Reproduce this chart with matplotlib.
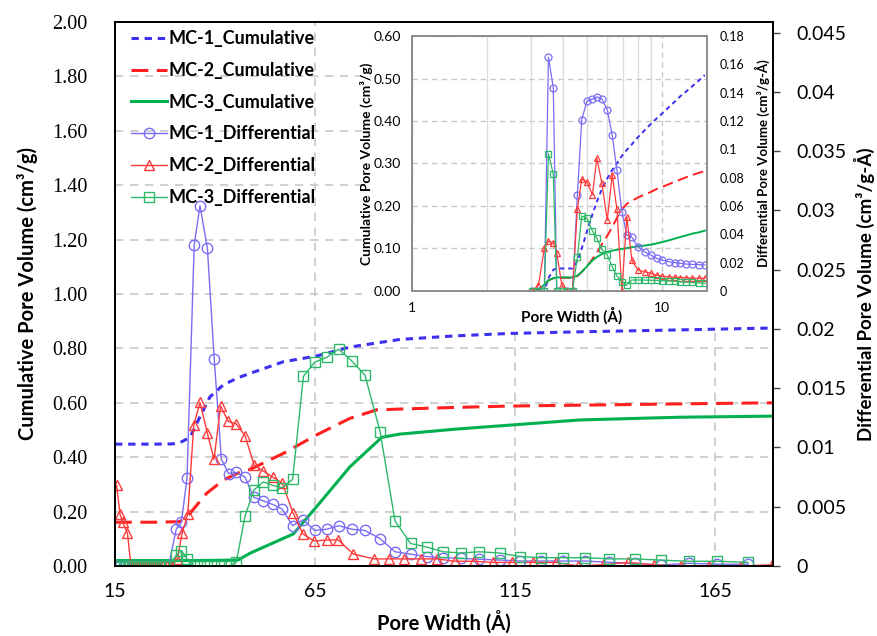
import matplotlib
matplotlib.use("Agg")
import matplotlib.pyplot as plt
from matplotlib.patches import Rectangle
from matplotlib.ticker import FixedLocator, NullFormatter, FuncFormatter

# ---------------- main chart data ----------------
# pore width grid shared by the MC-1 and MC-3 differential curves (Å)
x_diff = [15.2, 16.2, 17.2, 18.2, 19.2, 20.2, 21.2, 22.2, 23.2, 24.2, 25.2, 26.2, 27.2, 28.4,
          30.3, 31.6, 33.0, 34.8, 36.25, 38.1, 39.8, 41.6, 43.4, 45.3,
          47.5, 49.7, 52.1, 54.4, 56.8, 59.4, 62.1, 64.9, 67.9, 70.9,
          74.2, 77.5, 81.3, 85.0, 88.9, 92.9, 97.1, 101.4, 106.1, 111.2,
          116.2, 121.5, 127.0, 132.6, 138.6, 144.9, 151.5, 158.4, 165.6, 173.3]
mc1_diff = [0] * 14 + [
    0.0031, 0.0037, 0.0074, 0.0271, 0.0304, 0.0268, 0.0175, 0.0090, 0.0078, 0.0079,
    0.0075, 0.0058, 0.0055, 0.0052, 0.0048, 0.0034, 0.0039, 0.0030, 0.0031, 0.0034,
    0.0031, 0.0030, 0.0023, 0.0012, 0.0010, 0.0008, 0.0007, 0.00065, 0.00057, 0.0005,
    0.00042, 0.00042, 0.00042, 0.00042, 0.00031, 0.00023, 0.00008, 0.00023, 0.00015, 0.00015]
mc3_diff = [0] * 14 + [
    0.0009, 0.0013, 0.0006, 0, 0, 0, 0, 0, 0, 0.0003,
    0.0042, 0.0064, 0.0071, 0.0068, 0.0066, 0.0073, 0.0160, 0.0172, 0.0176, 0.0183,
    0.0173, 0.0161, 0.0113, 0.0038, 0.0019, 0.0016, 0.0012, 0.0011, 0.0012, 0.0011,
    0.0008, 0.0007, 0.0007, 0.0007, 0.0006, 0.0006, 0.0005, 0.0004, 0.0004, 0.0003]

# MC-2 differential has its own grid
x_diff2 = [15.4, 16.25, 16.9, 18.1,
           19.0, 20.0, 21.0, 22.0, 23.0, 24.0, 25.0, 26.0, 27.0, 28.0, 29.2,
           30.6, 31.8, 33.2, 34.7, 36.25, 38.1, 39.75, 41.4, 43.3, 45.25,
           47.5, 49.8, 52.1, 54.4, 56.8, 59.5, 62.0, 64.8, 67.9, 70.8,
           74.6, 79.8, 83.6, 87.3, 91.4, 95.6, 100.0, 104.75, 109.5, 114.3,
           119.6, 125.25, 130.7, 136.9, 143.3, 149.8, 156.6, 163.6, 171.4, 179.3]
mc2_diff = [0.0068, 0.0044, 0.0037, 0.0028] + [0] * 11 + [
    0.0006, 0.0028, 0.0044, 0.0119, 0.0138, 0.0112, 0.0090, 0.0135, 0.0122, 0.0120,
    0.0110, 0.0085, 0.0080, 0.0075, 0.0070, 0.0045, 0.0027, 0.0021, 0.0022, 0.0022,
    0.0010, 0.0006, 0.0006, 0.0006, 0.0006, 0.0006, 0.0004, 0.0004, 0.0003, 0.0003,
    0.0003, 0.0003, 0.0, 0.0001, 0.0003, 0.0001, 0.0, 0.0, 0.0, 0.0001]

# cumulative curves
x_cum1 = [15, 20, 25, 29.5, 31.7, 33.75, 35, 36.25, 38.75, 42, 45.4, 48.75, 57.1,
          65.4, 73.75, 86.25, 100, 113.75, 131.25, 156.25, 179.5]
mc1_cum = [0.448, 0.448, 0.448, 0.449, 0.457, 0.473, 0.51, 0.549, 0.622, 0.665, 0.69,
           0.708, 0.751, 0.772, 0.805, 0.833, 0.846, 0.855, 0.861, 0.868, 0.875]
x_cum2 = [15, 20, 25, 31.25, 33.75, 37.9, 42.1, 46.25, 48.75, 57.1, 65.4, 73.75,
          80.4, 86.25, 100, 113.75, 135, 156, 179.5]
mc2_cum = [0.161, 0.161, 0.161, 0.163, 0.194, 0.267, 0.316, 0.345, 0.355, 0.414, 0.482,
           0.543, 0.574, 0.577, 0.583, 0.588, 0.592, 0.596, 0.600]
x_cum3 = [15, 25, 35, 45.8, 48.75, 59.6, 65.4, 73.75, 81.7, 86.25, 100, 113.75,
          131.25, 156.25, 179.5]
mc3_cum = [0.02, 0.02, 0.02, 0.022, 0.047, 0.118, 0.218, 0.365, 0.473, 0.485, 0.503,
           0.518, 0.537, 0.547, 0.551]

# ---------------- inset data (log pore width) ----------------
ix = [3.03, 3.2, 3.38, 3.51, 3.67, 3.79, 3.97, 4.16, 4.38, 4.58, 4.77, 5.0, 5.26, 5.48,
      5.74, 6.03, 6.31, 6.59, 6.9, 7.22, 7.56, 8.0, 8.5, 9.0, 9.5, 10.0, 10.6, 11.2,
      11.8, 12.5, 13.2, 14.0, 14.8]
in_mc1_diff = [0, 0, 0, 0.165, 0.1435, 0, 0, 0, 0, 0.0678, 0.121, 0.134, 0.1355, 0.137,
               0.1357, 0.128, 0.110, 0.0854, 0.056, 0.0395, 0.038, 0.0313, 0.0277, 0.0254,
               0.023, 0.0219, 0.0207, 0.020, 0.0196, 0.019, 0.0188, 0.0186, 0.0184]
in_mc2_diff = [0, 0.004, 0.03, 0.035, 0.034, 0.027, 0.004, 0, 0, 0.058, 0.079, 0.077,
               0.068, 0.0937, 0.076, 0.050, 0.082, 0.0577, 0, 0.0524, 0.0219, 0.0148,
               0.0136, 0.0125, 0.0113, 0.0105, 0.010, 0.0097, 0.0095, 0.0093, 0.0091,
               0.009, 0.009]
in_mc3_diff = [0, 0, 0, 0.097, 0.0826, 0, 0, 0, 0, 0.024, 0.053, 0.0513, 0.0426, 0.0372,
               0.0294, 0.0254, 0.0172, 0.0106, 0.0066, 0.0042, 0.0078, 0.0078, 0.0077,
               0.0076, 0.0075, 0.0073, 0.0071, 0.0068, 0.0065, 0.0062, 0.006, 0.0057, 0.0054]
in_mc1_cum = [0, 0, 0, 0.03, 0.05, 0.053, 0.053, 0.053, 0.053, 0.07, 0.10, 0.14, 0.18,
              0.21, 0.24, 0.265, 0.285, 0.30, 0.318, 0.332, 0.345, 0.362, 0.378, 0.393,
              0.406, 0.418, 0.432, 0.445, 0.458, 0.47, 0.482, 0.495, 0.508]
in_mc2_cum = [0, 0.003, 0.015, 0.025, 0.03, 0.031, 0.031, 0.031, 0.031, 0.035, 0.045,
              0.058, 0.075, 0.09, 0.11, 0.13, 0.15, 0.172, 0.192, 0.205, 0.212, 0.22,
              0.227, 0.233, 0.24, 0.245, 0.251, 0.257, 0.262, 0.268, 0.273, 0.278, 0.282]
in_mc3_cum = [0, 0.003, 0.015, 0.025, 0.03, 0.032, 0.032, 0.032, 0.032, 0.036, 0.045,
              0.058, 0.072, 0.08, 0.087, 0.092, 0.095, 0.097, 0.099, 0.101, 0.103, 0.105,
              0.107, 0.109, 0.112, 0.115, 0.119, 0.123, 0.127, 0.131, 0.135, 0.138, 0.142]

labels = ["MC-1_Cumulative", "MC-2_Cumulative", "MC-3_Cumulative",
          "MC-1_Differential", "MC-2_Differential", "MC-3_Differential"]

BLUE_C, RED_C, GREEN_C = "#3d2ff0", "#ff1f1f", "#00b050"
BLUE_D, RED_D, GREEN_D = "#7a6cf5", "#ff3a3a", "#2eb86a"
GRID = "#c8c8c8"
SANS = ["Lato", "DejaVu Sans"]
SERIF = ["Liberation Serif", "DejaVu Serif"]

plt.rcParams["font.family"] = SANS

W, H = 878, 636
fig = plt.figure(figsize=(W / 100, H / 100), dpi=100)


def fx(px):
    return px / W


def fy(py):
    return 1 - py / H


# ---------------- main axes ----------------
ax = fig.add_axes([fx(115), fy(566), fx(773) - fx(115), fy(22) - fy(566)])
ax2 = ax.twinx()

ax.set_xlim(15, 179.5)
ax.set_ylim(0, 2.0)
ax2.set_ylim(0, 0.0459)

ax.set_xticks([15, 65, 115, 165])
ax.set_yticks([i * 0.2 for i in range(11)])
ax.yaxis.set_major_formatter(FuncFormatter(lambda v, p: f"{v:.2f}"))
ax2.set_yticks([i * 0.005 for i in range(10)])
ax2.yaxis.set_major_formatter(FuncFormatter(lambda v, p: "0" if v == 0 else f"{v:.3f}".rstrip("0")))

ax.grid(True, axis="both", color=GRID, linestyle=(0, (5, 4)), linewidth=1.2)
ax.set_axisbelow(True)

ax.tick_params(axis="y", length=0, pad=20, labelsize=14.5)
ax.tick_params(axis="x", length=0, pad=12, labelsize=14)
ax2.tick_params(axis="y", length=5, width=1, pad=12, labelsize=14, color="#444444")
for lab in ax.get_yticklabels():
    lab.set_fontfamily(SERIF)

for a in (ax, ax2):
    for s in a.spines.values():
        s.set_color("black")
        s.set_linewidth(1.3)

h1, = ax.plot(x_cum1, mc1_cum, color=BLUE_C, lw=2.2, dashes=(2.4, 1.9))
h2, = ax.plot(x_cum2, mc2_cum, color=RED_C, lw=2.2, dashes=(5.5, 2.8))
h3, = ax.plot(x_cum3, mc3_cum, color=GREEN_C, lw=2.2)
h4, = ax2.plot(x_diff, mc1_diff, color=BLUE_D, lw=1.0, marker="o", ms=7.5,
               mfc="none", mec=BLUE_D, mew=1.0)
h5, = ax2.plot(x_diff2, mc2_diff, color=RED_D, lw=1.0, marker="^", ms=7,
               mfc="none", mec=RED_D, mew=1.0)
h6, = ax2.plot(x_diff, mc3_diff, color=GREEN_D, lw=1.0, marker="s", ms=6.5,
               mfc="none", mec=GREEN_D, mew=1.0)

ax.set_xlabel("Pore Width (Å)", fontsize=14.5, fontweight="bold")
ax.xaxis.set_label_coords(0.5, -0.103)
ax.xaxis.label.set_va("center")
ax.set_ylabel("Cumulative Pore Volume (cm³/g)", fontsize=14.5, fontweight="bold", va="center")
ax.yaxis.set_label_coords((28 - 115) / 658, 0.5)
ax2.set_ylabel("Differential Pore Volume (cm³/g-Å)", fontsize=13.5, fontweight="bold",
               va="center")
ax2.yaxis.set_label_coords((864 - 115) / 658, 0.5)

leg = fig.legend([h1, h2, h3, h4, h5, h6], labels, loc="upper left",
                 bbox_to_anchor=(fx(122), fy(21)), frameon=False, borderpad=0,
                 handlelength=2.0, handletextpad=0.1, labelspacing=0.82,
                 prop={"family": SANS, "weight": "bold", "size": 13})

# ---------------- inset ----------------
fig.patches.append(Rectangle((fx(362), fy(326)), fx(771) - fx(362), fy(23) - fy(326),
                             transform=fig.transFigure, facecolor="white",
                             edgecolor="none", zorder=2))

ia = fig.add_axes([fx(412), fy(291), fx(707) - fx(412), fy(36) - fy(291)], zorder=3)
ia2 = ia.twinx()
ia.set_xscale("log")
ia.set_xlim(1, 15.1)
ia.set_ylim(0, 0.6)
ia2.set_ylim(0, 0.18)
ia.xaxis.set_major_locator(FixedLocator([1, 10]))
ia.xaxis.set_major_formatter(FuncFormatter(lambda v, p: f"{v:g}"))
ia.xaxis.set_minor_locator(FixedLocator([2, 3, 4, 5, 6, 7, 8, 9]))
ia.xaxis.set_minor_formatter(NullFormatter())
ia.set_yticks([i * 0.1 for i in range(7)])
ia.yaxis.set_major_formatter(FuncFormatter(lambda v, p: f"{v:.2f}"))
ia2.set_yticks([i * 0.02 for i in range(10)])
ia2.yaxis.set_major_formatter(FuncFormatter(lambda v, p: "0" if v == 0 else f"{v:.2f}".rstrip("0")))

ia.grid(True, which="minor", axis="x", color="#dcdcdc", linestyle="-", linewidth=1.0)
ia.grid(True, which="major", axis="x", color=GRID, linestyle=(0, (4, 3)), linewidth=1.0)
ia.grid(True, which="major", axis="y", color=GRID, linestyle=(0, (4, 3)), linewidth=1.0)
ia.set_axisbelow(True)

ia.tick_params(axis="both", which="both", length=0)
ia.tick_params(axis="y", pad=8, labelsize=10)
ia.tick_params(axis="x", pad=8, labelsize=10)
ia2.tick_params(axis="y", length=0, pad=9, labelsize=9)
for a in (ia, ia2):
    for s in a.spines.values():
        s.set_color("#8c8c8c")
        s.set_linewidth(1.2)

ia.plot(ix, in_mc1_cum, color=BLUE_C, lw=1.4, dashes=(2.4, 1.9))
ia.plot(ix, in_mc2_cum, color=RED_C, lw=1.4, dashes=(5.5, 2.8))
ia.plot(ix, in_mc3_cum, color=GREEN_C, lw=1.4)
ia2.plot(ix, in_mc1_diff, color=BLUE_D, lw=0.9, marker="o", ms=5, mfc="none", mec=BLUE_D, mew=0.9)
ia2.plot(ix, in_mc2_diff, color=RED_D, lw=0.9, marker="^", ms=4.5, mfc="none", mec=RED_D, mew=0.9)
ia2.plot(ix, in_mc3_diff, color=GREEN_D, lw=0.9, marker="s", ms=4.5, mfc="none", mec=GREEN_D, mew=0.9)

ia.set_xlabel("Pore Width (Å)", fontsize=11, fontweight="bold", va="center")
ia.xaxis.set_label_coords((572 - 412) / 295, (291 - 316) / 255)
ia.set_ylabel("Cumulative Pore Volume (cm³/g)", fontsize=10, fontweight="bold", va="center")
ia.yaxis.set_label_coords((366 - 412) / 295, 0.5)
ia2.set_ylabel("Differential Pore Volume (cm³/g-Å)", fontsize=9.5, fontweight="bold", va="center")
ia2.yaxis.set_label_coords((762 - 412) / 295, 0.5)

fig.savefig("out.png", dpi=100)
